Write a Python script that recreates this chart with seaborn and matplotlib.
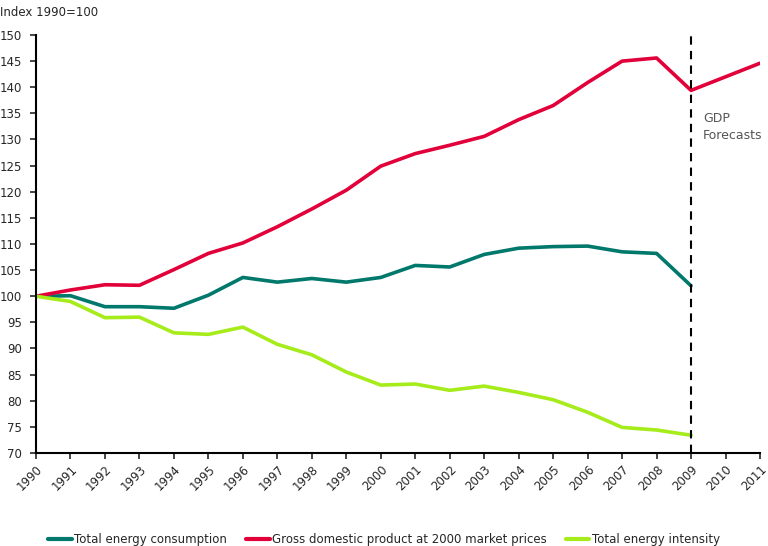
import matplotlib
matplotlib.use("Agg")
import matplotlib.pyplot as plt
import seaborn as sns
import pandas as pd
import numpy as np

years = list(range(1990, 2012))
gdp = [100, 101.2, 102.2, 102.1, 105.1, 108.2, 110.2, 113.3, 116.7, 120.3, 124.9,
       127.3, 128.9, 130.6, 133.8, 136.5, 140.9, 145.0, 145.6, 139.4, 142.0, 144.6]
consumption = [100, 100.1, 98.0, 98.0, 97.7, 100.2, 103.6, 102.7, 103.4, 102.7, 103.6,
               105.9, 105.6, 108.0, 109.2, 109.5, 109.6, 108.5, 108.2, 102.0]
intensity = [100, 99.0, 95.9, 96.0, 93.0, 92.7, 94.1, 90.8, 88.8, 85.5, 83.0,
             83.2, 82.0, 82.8, 81.6, 80.2, 77.8, 74.9, 74.4, 73.4]
series_names = ["Total energy consumption", "Gross domestic product at 2000 market prices",
                "Total energy intensity"]
colors = ["#00786B", "#E2003A", "#A6EB1A"]

rows = []
for name, vals in zip(series_names, [consumption, gdp, intensity]):
    for y, v in zip(years, vals):
        rows.append({"year": y, "value": v, "series": name})
df = pd.DataFrame(rows)

sns.set_style("white")
plt.rcParams['font.family'] = ['DejaVu Sans']

fig = plt.figure(figsize=(7.68, 5.46), dpi=100)
ax = fig.add_axes([36/768, 1 - 453/546, (760-36)/768, (453-35)/546])

sns.lineplot(data=df, x="year", y="value", hue="series", hue_order=series_names,
             palette=colors, linewidth=2.6, ax=ax, legend=True)

ax.axvline(2009, color="black", linestyle=(0, (4, 3)), linewidth=1.5, ymin=0, ymax=1.01, clip_on=False)
ax.text(2009.35, 132.3, "GDP\nForecasts", fontsize=9, color="#555555", va="center", ha="left",
        linespacing=1.4)

ax.set_xlim(1990, 2011)
ax.set_ylim(70, 150)
ax.set_xticks(years)
ax.set_xticklabels([str(y) for y in years], rotation=45, ha="right", rotation_mode="anchor", fontsize=8.5)
ax.set_yticks(range(70, 151, 5))
ax.tick_params(axis="y", labelsize=8.5, length=4, width=1.2, direction="out", left=True, pad=6)
ax.tick_params(axis="x", length=4, width=1.2, direction="out", bottom=True, pad=3)
ax.set_xlabel("")
ax.set_ylabel("")
for s in ["top", "right"]:
    ax.spines[s].set_visible(False)
for s in ["left", "bottom"]:
    ax.spines[s].set_color("black")
    ax.spines[s].set_linewidth(1.5)

fig.text(0, 1 - 12/546, "Index 1990=100", fontsize=8.5, va="center", ha="left")

ax.legend_.remove()
handles = [plt.Line2D([], [], color=c, linewidth=3) for c in colors]
fig.legend(handles, series_names, loc="center", bbox_to_anchor=(0.5, 1 - 540/546), ncol=3,
           frameon=False, fontsize=8.5, handlelength=2.0, handletextpad=0.2, columnspacing=1.6)

fig.savefig("out.png", dpi=100)
